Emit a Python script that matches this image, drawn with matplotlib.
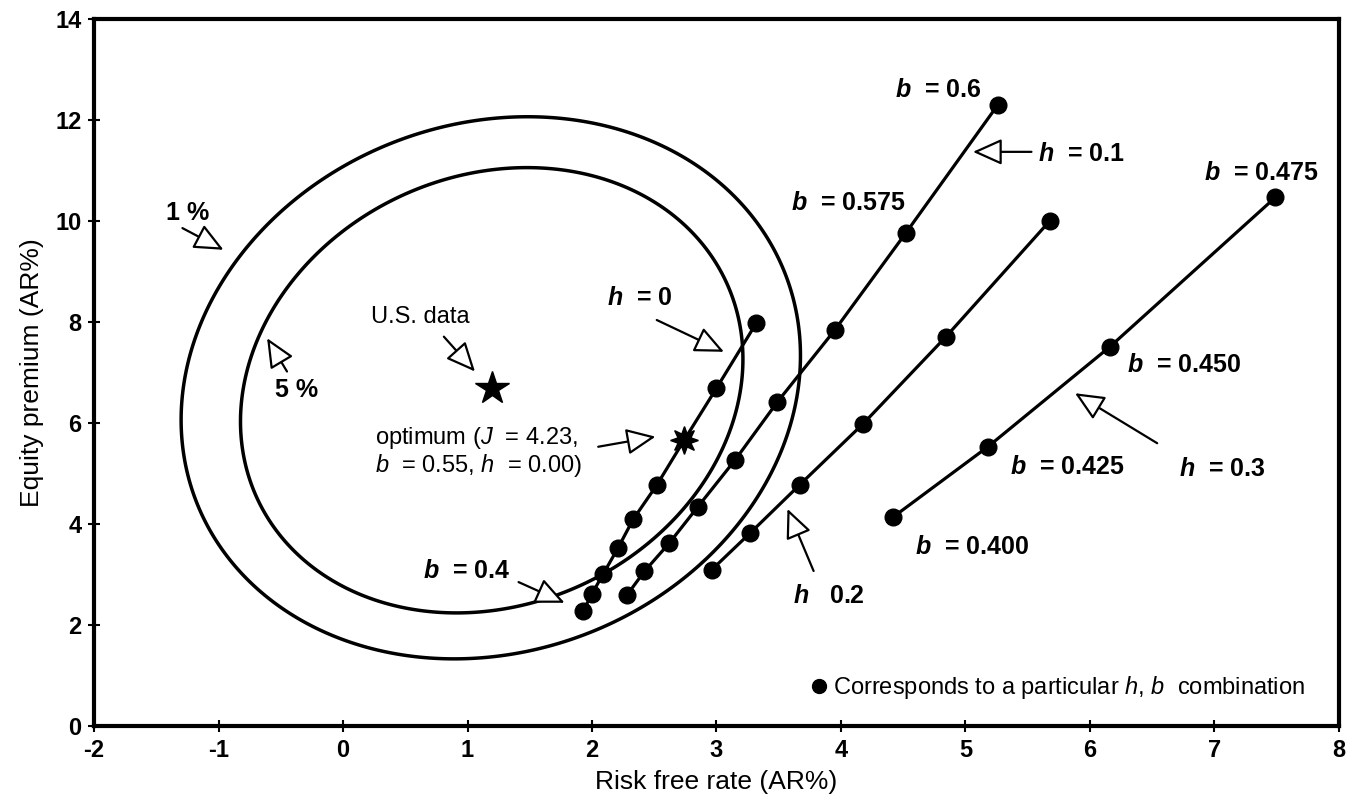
import numpy as np
import matplotlib
matplotlib.use("Agg")
import matplotlib.pyplot as plt
from matplotlib.lines import Line2D

plt.rcParams['font.family'] = ['Liberation Sans', 'DejaVu Sans']
plt.rcParams['mathtext.fontset'] = 'custom'
plt.rcParams['mathtext.rm'] = 'Liberation Sans'
plt.rcParams['mathtext.it'] = 'Liberation Sans:italic'
plt.rcParams['mathtext.bf'] = 'Liberation Sans:italic:bold'
plt.rcParams['axes.unicode_minus'] = False

# h, b combinations (risk free rate, equity premium)
h0_rf = [1.93, 2.00, 2.09, 2.21, 2.33, 2.52, 2.74, 3.00, 3.32]
h0_ep = [2.28, 2.62, 3.01, 3.53, 4.09, 4.77, 5.66, 6.69, 7.98]
h1_rf = [2.28, 2.42, 2.62, 2.85, 3.15, 3.49, 3.95, 4.52, 5.26]
h1_ep = [2.59, 3.06, 3.62, 4.34, 5.27, 6.42, 7.84, 9.76, 12.30]
h2_rf = [2.96, 3.27, 3.67, 4.18, 4.84, 5.68]
h2_ep = [3.09, 3.82, 4.78, 5.99, 7.70, 10.01]
h3_rf = [4.42, 5.18, 6.16, 7.49]
h3_ep = [4.14, 5.53, 7.51, 10.47]
OPTIMUM_IDX = 6  # b = 0.55 on the h = 0 line

us_rf, us_ep = 1.20, 6.70

# points on the 1% and 5% confidence contours
outer_rf = np.array([-1.28, -1.04, -0.56, 0.83, 1.53, 2.73, 3.27, 3.59, 3.66, 3.62,
                     3.40, 2.64, 1.98, 0.97, -0.03, -0.82])
outer_ep = np.array([6.00, 8.44, 10.08, 11.90, 12.06, 11.27, 10.15, 8.44, 7.12, 5.47,
                     4.87, 3.09, 1.74, 1.21, 1.77, 2.89])
inner_rf = np.array([-0.81, -0.51, 0.83, 1.45, 2.47, 3.00, 3.19, 3.13, 2.92, 2.08,
                     1.78, 0.86, -0.03, -0.35, -0.77])
inner_ep = np.array([6.00, 8.44, 10.85, 11.07, 10.42, 9.10, 7.19, 5.80, 4.87, 3.05,
                     2.63, 2.26, 2.89, 3.16, 5.13])

x_ticks = [-2, -1, 0, 1, 2, 3, 4, 5, 6, 7, 8]
y_ticks = [0, 2, 4, 6, 8, 10, 12, 14]

LW = 2.3
MS = 12
LABEL_SIZE = 18


def fit_conic(xs, ys):
    m = np.column_stack([xs ** 2, xs * ys, ys ** 2, xs, ys])
    coef, *_ = np.linalg.lstsq(m, np.ones_like(xs), rcond=None)
    return coef


def arrow(ax, tail, tip):
    ax.annotate('', xy=tip, xytext=tail,
                arrowprops=dict(arrowstyle='-|>,head_length=1.0,head_width=0.45',
                                mutation_scale=18, fc='white', ec='black', lw=1.6,
                                shrinkA=0, shrinkB=0),
                zorder=5)


fig = plt.figure(figsize=(13.57, 8.10), dpi=100)
ax = fig.add_axes([0.0693, 0.1037, 0.9174, 0.8728])

# confidence contours
gx, gy = np.meshgrid(np.linspace(-2, 8, 800), np.linspace(0, 14, 800))
for xs, ys in [(outer_rf, outer_ep), (inner_rf, inner_ep)]:
    a, b, c, d, e = fit_conic(xs, ys)
    f = a * gx ** 2 + b * gx * gy + c * gy ** 2 + d * gx + e * gy
    ax.contour(gx, gy, f, levels=[1.0], colors='black', linewidths=2.5)

# h lines
marks0 = [i for i in range(len(h0_rf)) if i != OPTIMUM_IDX]
ax.plot(h0_rf, h0_ep, '-o', color='black', lw=LW, ms=MS, markevery=marks0)
for xs, ys in [(h1_rf, h1_ep), (h2_rf, h2_ep), (h3_rf, h3_ep)]:
    ax.plot(xs, ys, '-o', color='black', lw=LW, ms=MS)

ax.plot(h0_rf[OPTIMUM_IDX], h0_ep[OPTIMUM_IDX], marker=(8, 1, 0), color='black', ms=20)
ax.plot(us_rf, us_ep, marker='*', color='black', ms=25)

# annotations
bold = dict(fontsize=LABEL_SIZE, fontweight='bold', ha='center', va='center')
ax.text(-1.25, 10.16, '1 %', **bold)
arrow(ax, (-1.29, 9.86), (-0.96, 9.43))
ax.text(-0.37, 6.65, '5 %', **bold)
arrow(ax, (-0.45, 7.02), (-0.61, 7.68))
ax.text(0.62, 8.10, 'U.S. data', fontsize=17, ha='center', va='center')
arrow(ax, (0.81, 7.71), (1.06, 7.02))
ax.text(0.26, 5.70, r'optimum ($J$  = 4.23,', fontsize=17, ha='left', va='center')
ax.text(0.26, 5.15, r'$b$  = 0.55, $h$  = 0.00)', fontsize=17, ha='left', va='center')
arrow(ax, (2.05, 5.53), (2.51, 5.73))

ax.text(2.38, 8.47, r'$\mathbf{h}$  = 0', **bold)
arrow(ax, (2.52, 8.04), (3.06, 7.41))
ax.text(0.99, 3.06, r'$\mathbf{b}$  = 0.4', **bold)
arrow(ax, (1.41, 2.85), (1.78, 2.44))

ax.text(4.78, 12.59, r'$\mathbf{b}$  = 0.6', **bold)
ax.text(5.58, 11.33, r'$\mathbf{h}$  = 0.1', fontsize=LABEL_SIZE, fontweight='bold',
        ha='left', va='center')
arrow(ax, (5.53, 11.37), (5.06, 11.37))
ax.text(4.06, 10.36, r'$\mathbf{b}$  = 0.575', **bold)
ax.text(7.38, 10.95, r'$\mathbf{b}$  = 0.475', **bold)
ax.text(6.76, 7.15, r'$\mathbf{b}$  = 0.450', **bold)
ax.text(5.82, 5.13, r'$\mathbf{b}$  = 0.425', **bold)
ax.text(7.06, 5.09, r'$\mathbf{h}$  = 0.3', **bold)
arrow(ax, (6.54, 5.60), (5.88, 6.59))
ax.text(5.05, 3.55, r'$\mathbf{b}$  = 0.400', **bold)
ax.text(3.90, 2.57, r'$\mathbf{h}$   0.2', **bold)
arrow(ax, (3.78, 3.07), (3.57, 4.30))

handle = Line2D([], [], marker='o', color='black', ls='none', ms=10)
ax.legend([handle], [r'Corresponds to a particular $h$, $b$  combination'],
          loc='lower right', bbox_to_anchor=(0.99, 0.005), frameon=False,
          fontsize=17, handletextpad=0.1, handlelength=1.0)

ax.set_xlim(-2, 8)
ax.set_ylim(0, 14)
ax.set_xticks(x_ticks)
ax.set_yticks(y_ticks)
ax.tick_params(direction='inout', length=8, width=1.5, labelsize=17, pad=5)
for lab in ax.get_xticklabels() + ax.get_yticklabels():
    lab.set_fontweight('bold')
for sp in ax.spines.values():
    sp.set_linewidth(3)

ax.set_xlabel('Risk free rate (AR%)', fontsize=19, labelpad=6)
ax.set_ylabel('Equity premium (AR%)', fontsize=19, labelpad=8)

fig.savefig('out.png', dpi=100)
